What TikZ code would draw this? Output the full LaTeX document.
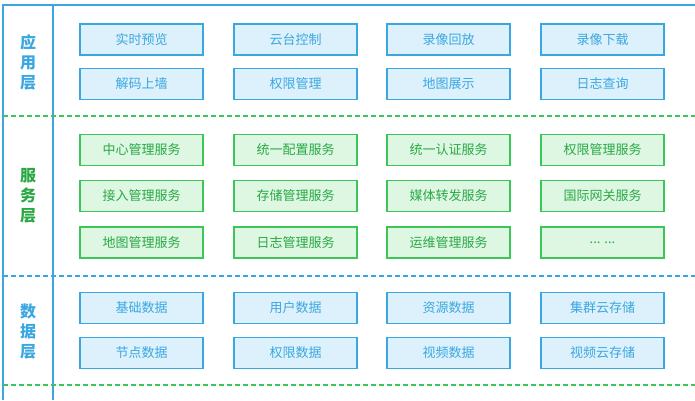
\documentclass[tikz,border=0pt]{standalone}
\usepackage{fontspec}
\newfontfamily\cjk{Noto Sans CJK SC}
\definecolor{lineblue}{HTML}{3BA7E0}
\definecolor{fillblue}{HTML}{DDF1FC}
\definecolor{lightgreen}{HTML}{DDF7E3}
\definecolor{linegreen}{HTML}{3CC65A}
\definecolor{textgreen}{HTML}{2AA844}
\begin{document}
\begin{tikzpicture}[x=1pt,y=-1pt,
		appbox/.style={draw=lineblue,fill=fillblue,line width=1.6pt,minimum width=123pt,minimum height=31pt,text=lineblue,font=\cjk\fontsize{13}{15}\selectfont},
		svcbox/.style={draw=linegreen,fill=lightgreen,line width=1.6pt,minimum width=123pt,minimum height=31pt,text=textgreen,font=\cjk\fontsize{13}{15}\selectfont},
		layertitle/.style={align=center,font=\cjk\bfseries\fontsize{16}{20}\selectfont},
		sepline/.style={dashed,dash pattern=on 5pt off 3pt,line width=1.3pt}
		]
		\useasboundingbox (0,0) rectangle (695,400);
		% frame
		\draw[lineblue,line width=1.4pt] (3,400) -- (3,5) -- (695,5);
		\draw[lineblue,line width=1.4pt] (53,5) -- (53,400);
		\draw[linegreen,sepline] (3,116) -- (695,116);
		\draw[lineblue,sepline] (3,276) -- (695,276);
		\draw[linegreen,sepline] (3,385) -- (695,385);
		% layer titles
		\node[layertitle,text=lineblue] (L1) at (28,62) {应\\用\\层};
		\node[layertitle,text=textgreen] (L2) at (28,196) {服\\务\\层};
		\node[layertitle,text=lineblue] (L3) at (28,331) {数\\据\\层};
		% application layer
		\node[appbox] (A1) at (141.5,39.5) {实时预览};
		\node[appbox] (A2) at (295.5,39.5) {云台控制};
		\node[appbox] (A3) at (448.5,39.5) {录像回放};
		\node[appbox] (A4) at (602.5,39.5) {录像下载};
		\node[appbox] (A5) at (141.5,84) {解码上墙};
		\node[appbox] (A6) at (295.5,84) {权限管理};
		\node[appbox] (A7) at (448.5,84) {地图展示};
		\node[appbox] (A8) at (602.5,84) {日志查询};
		% service layer
		\node[svcbox] (S1) at (141.5,150) {中心管理服务};
		\node[svcbox] (S2) at (295.5,150) {统一配置服务};
		\node[svcbox] (S3) at (448.5,150) {统一认证服务};
		\node[svcbox] (S4) at (602.5,150) {权限管理服务};
		\node[svcbox] (S5) at (141.5,196) {接入管理服务};
		\node[svcbox] (S6) at (295.5,196) {存储管理服务};
		\node[svcbox] (S7) at (448.5,196) {媒体转发服务};
		\node[svcbox] (S8) at (602.5,196) {国际网关服务};
		\node[svcbox] (S9) at (141.5,242.5) {地图管理服务};
		\node[svcbox] (S10) at (295.5,242.5) {日志管理服务};
		\node[svcbox] (S11) at (448.5,242.5) {运维管理服务};
		\node[svcbox] (S12) at (602.5,242.5) {... ...};
		% data layer
		\node[appbox] (D1) at (141.5,308) {基础数据};
		\node[appbox] (D2) at (295.5,308) {用户数据};
		\node[appbox] (D3) at (448.5,308) {资源数据};
		\node[appbox] (D4) at (602.5,308) {集群云存储};
		\node[appbox] (D5) at (141.5,353) {节点数据};
		\node[appbox] (D6) at (295.5,353) {权限数据};
		\node[appbox] (D7) at (448.5,353) {视频数据};
		\node[appbox] (D8) at (602.5,353) {视频云存储};
\end{tikzpicture}
\end{document}
